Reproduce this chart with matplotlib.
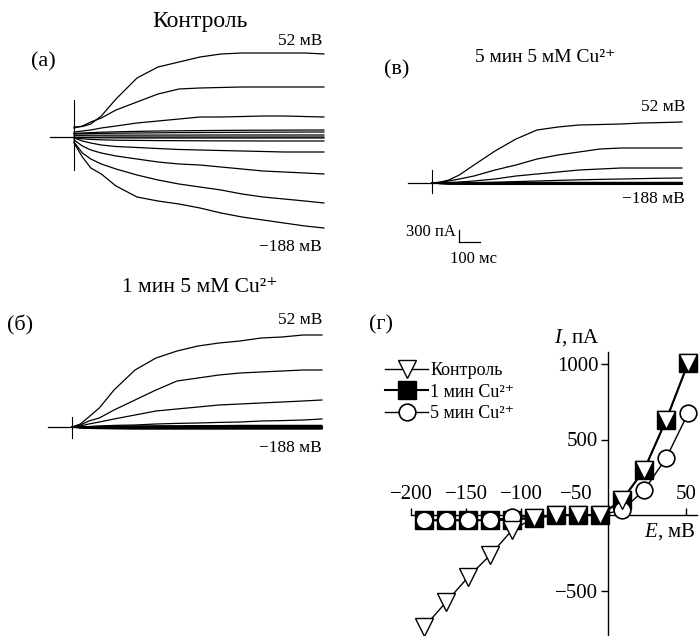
import matplotlib
matplotlib.use('Agg')
import matplotlib.pyplot as plt

plt.rcParams['font.family'] = ['Liberation Serif', 'DejaVu Serif']
plt.rcParams['mathtext.fontset'] = 'custom'
plt.rcParams['mathtext.rm'] = 'Liberation Serif'
plt.rcParams['mathtext.it'] = 'Liberation Serif:italic'
plt.rcParams['axes.unicode_minus'] = True

# ---------------- data ----------------
# step potentials (mV)
V_STEPS = [52, 32, 12, -8, -28, -48, -68, -88, -108, -128, -148, -168, -188]

# time grid of current traces (ms from step onset)
T_MS = [0, 40, 80, 130, 200, 300, 400, 500, 600, 700, 800, 900, 1000, 1100, 1190]
PRE_T = [-115, 0]          # holding segment before the step
PRE_I = [0, 0]

# (а) control traces, pA
A_TRACES = [
    [250, 262, 325, 525, 950, 1475, 1750, 1875, 2000, 2075, 2100, 2100, 2100, 2100, 2075],
    [225, 275, 375, 475, 675, 875, 1075, 1200, 1225, 1238, 1250, 1250, 1250, 1250, 1250],
    [125, 150, 175, 225, 275, 350, 400, 450, 500, 500, 512, 525, 525, 512, 500],
    [90, 100, 110, 120, 130, 140, 150, 155, 160, 165, 168, 170, 172, 174, 175],
    [75, 80, 85, 90, 95, 100, 105, 110, 112, 115, 118, 120, 122, 124, 125],
    [40, 42, 44, 45, 46, 47, 48, 48, 49, 50, 50, 50, 50, 50, 50],
    [-5, -5, -3, -2, 0, 0, 0, 0, 0, 0, 0, 0, 0, 0, 0],
    [-10, -15, -18, -20, -22, -24, -25, -25, -25, -25, -25, -25, -25, -25, -25],
    [-20, -45, -60, -70, -80, -85, -90, -92, -95, -97, -98, -100, -100, -100, -100],
    [-25, -100, -150, -200, -238, -262, -288, -312, -325, -338, -350, -362, -375, -375, -375],
    [-75, -225, -325, -400, -475, -550, -625, -675, -700, -750, -800, -850, -875, -900, -925],
    [-125, -400, -550, -675, -800, -950, -1075, -1175, -1250, -1325, -1425, -1500, -1550, -1600, -1650],
    [-150, -500, -775, -925, -1225, -1500, -1600, -1675, -1775, -1900, -2000, -2075, -2150, -2225, -2275],
]
A_ARTIFACT = [925, -825]

# (б) 1 min 5 mM Cu2+ traces, pA
B_TRACES = [
    [0, 75, 250, 475, 925, 1425, 1725, 1900, 2025, 2100, 2150, 2225, 2250, 2300, 2300],
    [0, 50, 150, 225, 425, 675, 925, 1150, 1225, 1300, 1350, 1375, 1400, 1425, 1425],
    [0, 25, 75, 125, 200, 300, 400, 450, 500, 550, 575, 600, 625, 650, 675],
    [0, 0, 10, 25, 40, 50, 75, 90, 100, 115, 125, 150, 160, 175, 200],
    [0, 5, 10, 15, 20, 25, 30, 30, 35, 35, 40, 40, 40, 40, 40],
    [0, 5, 5, 10, 10, 15, 15, 20, 20, 20, 25, 25, 25, 25, 25],
    [0, 0, 5, 5, 5, 5, 10, 10, 10, 10, 10, 10, 10, 10, 10],
    [0, 0, 0, 0, 0, 0, 0, 0, 0, 0, 0, 0, 0, 0, 0],
    [0, -5, -5, -5, -10, -10, -10, -10, -10, -10, -10, -10, -10, -10, -10],
    [0, -10, -15, -15, -20, -20, -20, -20, -20, -20, -20, -20, -20, -20, -20],
    [0, -15, -20, -25, -25, -30, -30, -30, -30, -30, -30, -30, -30, -30, -30],
    [0, -20, -30, -35, -35, -40, -40, -40, -40, -40, -40, -40, -40, -40, -40],
    [0, -25, -35, -40, -45, -50, -50, -50, -50, -50, -50, -50, -50, -50, -50],
]
B_ARTIFACT = [250, -275]

# (в) 5 min 5 mM Cu2+ traces, pA
C_TRACES = [
    [0, 25, 75, 200, 450, 800, 1100, 1325, 1400, 1450, 1462, 1475, 1500, 1512, 1525],
    [0, 12, 50, 100, 175, 325, 450, 600, 700, 775, 850, 875, 875, 875, 875],
    [0, 0, 12, 25, 50, 100, 175, 225, 275, 325, 350, 375, 375, 375, 375],
    [0, 0, 0, 5, 10, 20, 35, 50, 65, 80, 90, 100, 110, 120, 125],
    [0, 0, 5, 5, 10, 10, 10, 15, 15, 15, 15, 15, 15, 15, 15],
    [0, 0, 0, 0, 5, 5, 5, 5, 5, 5, 5, 5, 5, 5, 5],
    [0, 0, 0, 0, 0, 0, 0, 0, 0, 0, 0, 0, 0, 0, 0],
    [0, -5, -5, -5, -5, -5, -5, -5, -5, -5, -5, -5, -5, -5, -5],
    [0, -5, -10, -10, -10, -10, -10, -10, -10, -10, -10, -10, -10, -10, -10],
    [0, -10, -15, -15, -15, -20, -20, -20, -20, -20, -20, -20, -20, -20, -20],
    [0, -10, -20, -20, -25, -25, -25, -25, -25, -25, -25, -25, -25, -25, -25],
    [0, -15, -20, -25, -30, -30, -30, -30, -30, -30, -30, -30, -30, -30, -30],
    [0, -15, -25, -30, -35, -35, -35, -35, -35, -35, -35, -35, -35, -35, -35],
]
C_ARTIFACT = [325, -250]

# scale bar
SCALE_T0, SCALE_I0 = 129, -1475
SCALE_MS, SCALE_PA = 100, 300

# (г) I-V relations
E_MV = [-188, -168, -148, -128, -108, -88, -68, -48, -28, -8, 12, 32, 52]
I_CONTROL = [-742, -576, -411, -265, -99, -20, 0, 0, 0, 100, 300, 630, 1007]
I_CU_1MIN = [-35, -35, -35, -35, -30, -20, 0, 0, 0, 100, 300, 630, 1007]
I_CU_5MIN = [-35, -35, -35, -35, -15, -10, 0, 0, 0, 33, 165, 377, 675]
IV_XTICKS = [-200, -150, -100, -50, 50]
IV_YTICKS = [-500, 500, 1000]

# ---------------- figure ----------------
W, H = 700, 636
fig = plt.figure(figsize=(W / 100, H / 100), dpi=100)

PX_MS = 0.21   # pixels per ms
PX_PA = 0.04   # pixels per pA


def px_axes(x0, y0, x1, y1):
    return fig.add_axes([x0 / W, 1 - y1 / H, (x1 - x0) / W, (y1 - y0) / H])


def trace_panel(bbox, t0_px, base_px, traces, artifact):
    x0, y0, x1, y1 = bbox
    ax = px_axes(*bbox)
    ax.set_xlim((x0 - t0_px) / PX_MS, (x1 - t0_px) / PX_MS)
    ax.set_ylim((base_px - y1) / PX_PA, (base_px - y0) / PX_PA)
    ax.axis('off')
    ax.plot(PRE_T, PRE_I, color='black', lw=0.9)
    ax.plot([0, 0], artifact, color='black', lw=0.8)
    for tr in traces:
        ax.plot(T_MS, tr, color='black', lw=0.9)
    return ax


def ftext(x, y, s, ha='center', size=12, **kw):
    fig.text(x / W, 1 - y / H, s, ha=ha, va='center', fontsize=size, **kw)


axA = trace_panel((45, 40, 330, 240), 74, 137, A_TRACES, A_ARTIFACT)
axB = trace_panel((45, 320, 330, 445), 72, 427, B_TRACES, B_ARTIFACT)
axC = trace_panel((405, 100, 695, 275), 432, 183, C_TRACES, C_ARTIFACT)

# scale bar
axC.plot([SCALE_T0, SCALE_T0], [SCALE_I0, SCALE_I0 + SCALE_PA], color='black', lw=0.9)
axC.plot([SCALE_T0, SCALE_T0 + SCALE_MS], [SCALE_I0, SCALE_I0], color='black', lw=0.9)

# panel texts
ftext(200, 22, 'Контроль', size=17)
ftext(31, 62, '(а)', ha='left', size=16)
ftext(322, 41, '52 мВ', ha='right', size=12.5)
ftext(322, 247, '−188 мВ', ha='right', size=12.5)

ftext(200, 288, '1 мин 5 мМ Cu²⁺', size=15.5)
ftext(7, 325, '(б)', ha='left', size=16)
ftext(322, 320, '52 мВ', ha='right', size=12.5)
ftext(322, 448, '−188 мВ', ha='right', size=12.5)

ftext(384, 70, '(в)', ha='left', size=16)
ftext(545, 58, '5 мин 5 мМ Cu²⁺', size=14)
ftext(685, 107, '52 мВ', ha='right', size=12.5)
ftext(685, 199, '−188 мВ', ha='right', size=12.5)
ftext(456, 232, '300 пА', ha='right', size=12)
ftext(474, 259, '100 мс', size=12)

ftext(369, 325, '(г)', ha='left', size=16)

# ---------------- I-V panel ----------------
IV_X0PX, IV_Y0PX = 631, 515   # pixel of (0 mV, 0 pA)
IV_PX_MV, IV_PX_PA = 1.1, 0.151
bx0, by0, bx1, by1 = 405, 340, 700, 636
axD = px_axes(bx0, by0, bx1, by1)
axD.set_xlim((bx0 - IV_X0PX) / IV_PX_MV, (bx1 - IV_X0PX) / IV_PX_MV)
axD.set_ylim((IV_Y0PX - by1) / IV_PX_PA, (IV_Y0PX - by0) / IV_PX_PA)
axD.patch.set_alpha(0)

axD.spines['right'].set_visible(False)
axD.spines['bottom'].set_visible(False)
axD.spines['left'].set_position(('data', -21))
axD.spines['left'].set_bounds(-810, 1080)
axD.spines['top'].set_position(('data', 0))
axD.spines['top'].set_bounds(-200, 60)
for s in ('left', 'top'):
    axD.spines[s].set_linewidth(1.0)

axD.set_xticks(IV_XTICKS)
axD.set_xticklabels([f'{v}'.replace('-', '−') for v in IV_XTICKS])
axD.set_yticks(IV_YTICKS)
axD.set_yticklabels([f'{v}'.replace('-', '−') for v in IV_YTICKS])
axD.tick_params(axis='x', top=True, bottom=False, labeltop=True, labelbottom=False,
                direction='out', length=5, width=1, pad=3, labelsize=15)
axD.tick_params(axis='y', left=True, right=False, direction='out', length=5, width=1,
                pad=2, labelsize=15)

l1, = axD.plot(E_MV, I_CU_1MIN, color='black', lw=1.5, marker='s', ms=13,
               mfc='black', mec='black', zorder=3, label='1 мин Cu²⁺', clip_on=False)
l2, = axD.plot(E_MV, I_CU_5MIN, color='black', lw=1.0, marker='o', ms=12,
               mfc='white', mec='black', mew=1.2, zorder=4,
               markevery=[0, 1, 2, 3, 4, 9, 10, 11, 12], label='5 мин Cu²⁺', clip_on=False)
l0, = axD.plot(E_MV, I_CONTROL, color='black', lw=1.0, marker='v', ms=13,
               mfc='white', mec='black', mew=1.0, zorder=5, label='Контроль', clip_on=False)

ftext(600, 338, '$I$, пА', ha='right', size=15)
ftext(696, 532, '$E$, мВ', ha='right', size=15)

fig.legend(handles=[l0, l1, l2], loc='upper left',
           bbox_to_anchor=(385 / W, 1 - 362 / H), frameon=False, fontsize=13,
           handlelength=2.4, handletextpad=0.1, labelspacing=0.25, borderpad=0,
           borderaxespad=0)

fig.savefig('out.png', dpi=100)
